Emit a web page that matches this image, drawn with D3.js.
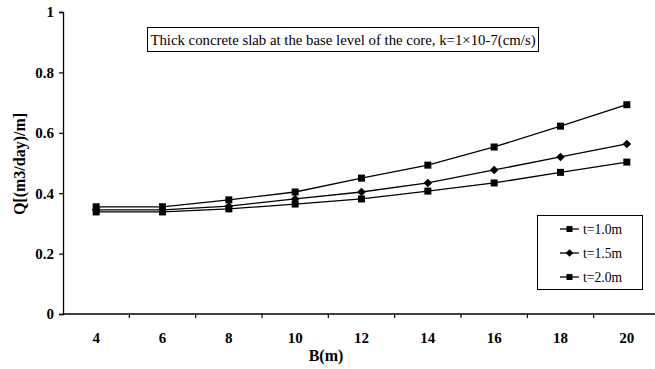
<!DOCTYPE html>
<html>
<head>
<meta charset="utf-8">
<script src="https://cdn.jsdelivr.net/npm/d3@7"></script>
<style>
  html, body { margin: 0; padding: 0; background: #fff; }
  svg { display: block; }
  text { font-family: "Liberation Serif", "Times New Roman", serif; fill: #000; }
</style>
</head>
<body>
<svg id="chart" width="655" height="369"></svg>
<script>
// Slab width B (m)
const widths = [4, 6, 8, 10, 12, 14, 16, 18, 20];
// Seepage Q [(m3/day)/m] for each slab thickness
const q_t10 = [0.355, 0.355, 0.378, 0.404, 0.450, 0.493, 0.553, 0.622, 0.693];
const q_t15 = [0.345, 0.345, 0.357, 0.381, 0.404, 0.434, 0.477, 0.520, 0.563];
const q_t20 = [0.338, 0.338, 0.348, 0.364, 0.381, 0.407, 0.434, 0.469, 0.503];
const seriesNames = ["t=1.0m", "t=1.5m", "t=2.0m"];
const seriesShapes = ["square", "diamond", "square"];
const yTicks = [0, 0.2, 0.4, 0.6, 0.8, 1];
const noteText = "Thick concrete slab at the base level of the core, k=1\u00d710-7(cm/s)";

const series = [q_t10, q_t15, q_t20].map((vals, i) => ({
  name: seriesNames[i], shape: seriesShapes[i], values: vals
}));

const svg = d3.select("#chart");
const plotLeft = 63, plotRight = 660, plotTop = 12, plotBottom = 314;

const x = d3.scaleBand().domain(widths).range([plotLeft, plotRight]).padding(0);
const y = d3.scaleLinear().domain([0, 1]).range([plotBottom, plotTop]);
const cx = d => x(d) + x.bandwidth() / 2;

// Y axis
const yAxis = d3.axisLeft(y).tickValues(yTicks).tickSize(4).tickPadding(5)
  .tickFormat(d => d === 0 || d === 1 ? String(d) : d3.format(".1f")(d));
const gy = svg.append("g").attr("transform", `translate(${plotLeft},0)`).call(yAxis);
gy.select(".domain").attr("stroke", "#000").attr("stroke-width", 1.3);
gy.selectAll(".tick line").attr("stroke", "#000").attr("stroke-width", 1.2);
gy.selectAll(".tick text")
  .style("font-family", '"Liberation Serif", "Times New Roman", serif')
  .style("font-weight", "bold").style("font-size", "15px").attr("fill", "#000");

// X axis: labels at category centres, ticks on category boundaries
const gx = svg.append("g").attr("transform", `translate(0,${plotBottom})`);
gx.append("line").attr("x1", plotLeft).attr("x2", plotRight).attr("y1", 0).attr("y2", 0)
  .attr("stroke", "#000").attr("stroke-width", 1.3);
gx.selectAll(".bt").data(widths).enter().append("line")
  .attr("x1", d => x(d) + x.bandwidth()).attr("x2", d => x(d) + x.bandwidth())
  .attr("y1", 0).attr("y2", 4).attr("stroke", "#000").attr("stroke-width", 1.2);
gx.selectAll(".lbl").data(widths).enter().append("text")
  .attr("x", d => cx(d)).attr("y", 29).attr("text-anchor", "middle")
  .style("font-weight", "bold").style("font-size", "15px").text(d => d);

// Axis titles
svg.append("text").attr("x", 326).attr("y", 361).attr("text-anchor", "middle")
  .style("font-weight", "bold").style("font-size", "16px").text("B(m)");
svg.append("text").attr("transform", "translate(25,164) rotate(-90)")
  .attr("text-anchor", "middle").style("font-weight", "bold").style("font-size", "16px")
  .text("Q[(m3/day)/m]");

// Note box
const note = svg.append("g");
note.append("rect").attr("x", 147.5).attr("y", 27.5).attr("width", 391).attr("height", 24)
  .attr("fill", "#fff").attr("stroke", "#000").attr("stroke-width", 1);
note.append("text").attr("x", 343).attr("y", 44.5).attr("text-anchor", "middle")
  .style("font-size", "14.8px").text(noteText);

// Markers
function drawMarker(g, shape, px, py, s) {
  if (shape === "square") {
    g.append("rect").attr("x", px - s / 2).attr("y", py - s / 2)
      .attr("width", s).attr("height", s).attr("fill", "#000");
  } else {
    const r = s / 2 + 0.8;
    g.append("path")
      .attr("d", `M${px},${py - r}L${px + r},${py}L${px},${py + r}L${px - r},${py}Z`)
      .attr("fill", "#000");
  }
}

// Lines and markers
const line = d3.line().x((d, i) => cx(widths[i])).y(d => y(d));
const plot = svg.append("g");
series.forEach(s => {
  plot.append("path").datum(s.values).attr("d", line)
    .attr("fill", "none").attr("stroke", "#000").attr("stroke-width", 1.3);
});
series.forEach(s => {
  const g = plot.append("g");
  s.values.forEach((v, i) => drawMarker(g, s.shape, cx(widths[i]), y(v), 7));
});

// Legend
const lg = svg.append("g");
lg.append("rect").attr("x", 537.5).attr("y", 215.5).attr("width", 105).attr("height", 74)
  .attr("fill", "#fff").attr("stroke", "#000").attr("stroke-width", 1);
series.forEach((s, i) => {
  const ly = 229 + i * 24;
  lg.append("line").attr("x1", 560).attr("x2", 579).attr("y1", ly).attr("y2", ly)
    .attr("stroke", "#000").attr("stroke-width", 1.3);
  drawMarker(lg, s.shape, 569.5, ly, 6);
  lg.append("text").attr("x", 583).attr("y", ly + 4.5).style("font-size", "13.6px").text(s.name);
});
</script>
</body>
</html>
